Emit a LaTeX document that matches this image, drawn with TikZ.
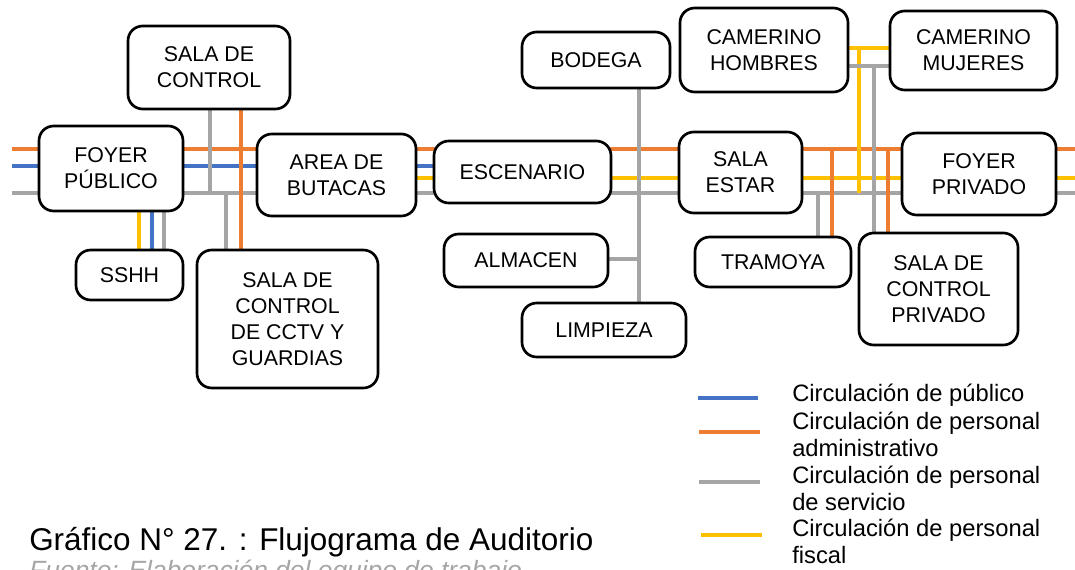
\documentclass[tikz,border=0pt]{standalone}
\usepackage{fontspec}
\setmainfont{Liberation Sans}
\usetikzlibrary{backgrounds}
\definecolor{cblue}{HTML}{4472C4}
\definecolor{corange}{HTML}{ED7D31}
\definecolor{cgray}{HTML}{A5A5A5}
\definecolor{cyellow}{HTML}{FFC000}
\definecolor{cfuente}{HTML}{A6A6A6}
\tikzset{
  room/.style={draw=black, line width=2pt, rounded corners=11pt, fill=white,
    align=center, inner sep=0pt, font=\fontsize{16}{19.5}\selectfont},
  sz/.style 2 args={minimum width=#1*0.75pt, minimum height=#2*0.75pt},
  pub/.style={draw=cblue, line width=3pt},
  adm/.style={draw=corange, line width=3pt},
  srv/.style={draw=cgray, line width=3pt},
  fis/.style={draw=cyellow, line width=3pt},
  legtext/.style={anchor=base west, align=left, inner sep=0pt,
    font=\fontsize{17.8}{20.1}\selectfont},
}
\begin{document}
\begin{tikzpicture}[x=0.75pt,y=-0.75pt]
\useasboundingbox (0,0) rectangle (1075,570);
% rooms
\node[room, sz={162}{83}] (sc) at (209,67.5) {SALA DE\\CONTROL};
\node[room, sz={144}{85}] (fp) at (111,168.5) {FOYER\\PÚBLICO};
\node[room, sz={159}{82}] (ab) at (336.5,175) {AREA DE\\BUTACAS};
\node[room, sz={177}{62}] (esc) at (522.5,172) {ESCENARIO};
\node[room, sz={123}{81}] (se) at (740.5,172.5) {SALA\\ESTAR};
\node[room, sz={154}{82}] (fpr) at (979,174) {FOYER\\PRIVADO};
\node[room, sz={168}{84}] (ch) at (764,50) {CAMERINO\\HOMBRES};
\node[room, sz={167}{79}] (cm) at (973.5,50.5) {CAMERINO\\MUJERES};
\node[room, sz={148}{56}] (bod) at (596,60) {BODEGA};
\node[room, sz={107}{50}] (sshh) at (129.5,275) {SSHH};
\node[room, sz={181}{138}] (cctv) at (287.5,319) {SALA DE\\CONTROL\\DE CCTV Y\\GUARDIAS};
\node[room, sz={164}{53}] (alm) at (526,260.5) {ALMACEN};
\node[room, sz={164}{54}] (lim) at (604,330) {LIMPIEZA};
\node[room, sz={156}{50}] (tra) at (773,262) {TRAMOYA};
\node[room, sz={159}{112}] (scp) at (938.5,289) {SALA DE\\CONTROL\\PRIVADO};
% bus end points and junctions
\coordinate (oL) at (12,149); \coordinate (oR) at (1075,149);
\coordinate (bL) at (12,166);
\coordinate (yR) at (1075,178);
\coordinate (gL) at (12,193); \coordinate (gR) at (1075,193);
\coordinate (v1) at (210,193);
\coordinate (v2) at (241,0);
\coordinate (v3) at (226,193);
\coordinate (v4) at (139,0);
\coordinate (v5) at (152,0);
\coordinate (v6) at (164,0);
\coordinate (v7) at (639,259);
\coordinate (h1) at (859,48); \coordinate (h1b) at (859,193);
\coordinate (h2) at (874,66);
\coordinate (v8) at (832,149);
\coordinate (v9) at (888,149);
\coordinate (v10) at (818,193);
\begin{scope}[on background layer]
  \draw[adm] (oL) -- (oR);
  \draw[pub] (bL) -- (esc.west |- bL);
  \draw[fis] (ab.east |- yR) -- (yR);
  \draw[srv] (gL) -- (gR);
  \draw[srv] (sc.south -| v1) -- (v1);
  \draw[adm] (sc.south -| v2) -- (cctv.north -| v2);
  \draw[srv] (v3) -- (cctv.north -| v3);
  \draw[fis] (fp.south -| v4) -- (sshh.north -| v4);
  \draw[pub] (fp.south -| v5) -- (sshh.north -| v5);
  \draw[srv] (fp.south -| v6) -- (sshh.north -| v6);
  \draw[srv] (bod.south -| v7) -- (lim.north -| v7);
  \draw[srv] (alm.east |- v7) -- (v7);
  \draw[fis] (ch.east |- h1) -- (cm.west |- h1);
  \draw[fis] (h1) -- (h1b);
  \draw[srv] (ch.east |- h2) -- (cm.west |- h2);
  \draw[srv] (h2) -- (scp.north -| h2);
  \draw[adm] (v8) -- (tra.north -| v8);
  \draw[adm] (v9) -- (scp.north -| v9);
  \draw[srv] (v10) -- (tra.north -| v10);
\end{scope}
% legend
\coordinate (l1a) at (698,398); \coordinate (l1b) at (758,398);
\coordinate (l2a) at (699,432); \coordinate (l2b) at (760,432);
\coordinate (l3a) at (699,482); \coordinate (l3b) at (760,482);
\coordinate (l4a) at (701,535); \coordinate (l4b) at (762,535);
\draw[pub] (l1a) -- (l1b);
\draw[adm] (l2a) -- (l2b);
\draw[srv] (l3a) -- (l3b);
\draw[fis] (l4a) -- (l4b);
\node[legtext] (t1) at (792,402) {Circulación de público};
\node[legtext] (t2) at (792,456) {Circulación de personal\\administrativo};
\node[legtext] (t3) at (792,510) {Circulación de personal\\de servicio};
\node[legtext] (t4) at (792,563) {Circulación de personal\\fiscal};
% caption
\node[anchor=base west, inner sep=0pt, font=\fontsize{23.6}{28}\selectfont] (cap) at (29,550) {Gráfico N° 27. : Flujograma de Auditorio};
\begin{scope}
  \clip (0,0) rectangle (1075,570);
  \node[anchor=base west, inner sep=0pt, text=cfuente, font=\fontsize{19.8}{24}\selectfont\itshape] (src) at (29,579) {Fuente: Elaboración del equipo de trabajo};
\end{scope}
\end{tikzpicture}
\end{document}
